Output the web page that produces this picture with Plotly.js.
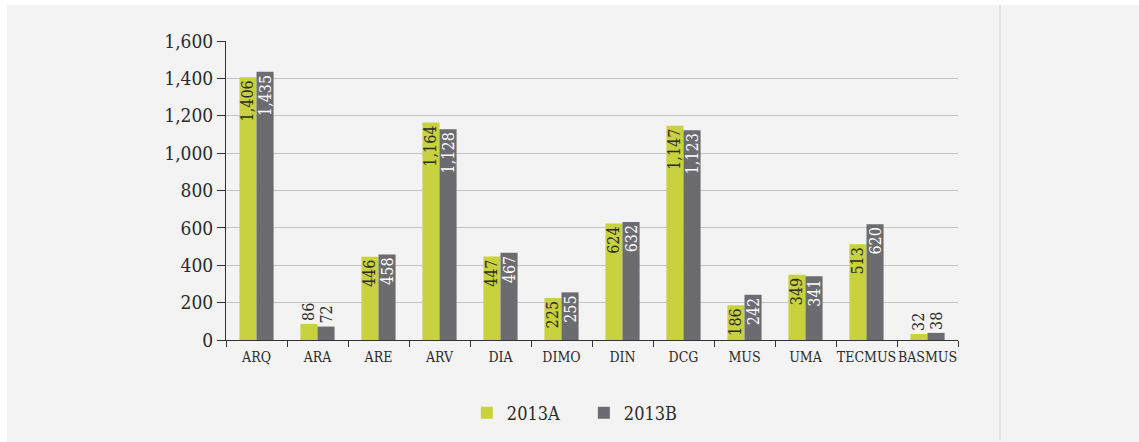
<!DOCTYPE html>
<html>
<head>
<meta charset="utf-8">
<script src="https://cdn.plot.ly/plotly-3.0.1.min.js"></script>
<style>
html,body{margin:0;padding:0;background:#ffffff;}
#chart{position:absolute;left:7px;top:5px;width:1132px;height:437px;}
</style>
</head>
<body>
<div id="chart"></div>
<script>
const categories = ["ARQ","ARA","ARE","ARV","DIA","DIMO","DIN","DCG","MUS","UMA","TECMUS","BASMUS"];
const values2013A = [1406, 86, 446, 1164, 447, 225, 624, 1147, 186, 349, 513, 32];
const values2013B = [1435, 72, 458, 1128, 467, 255, 632, 1123, 242, 341, 620, 38];
const seriesNames = ["2013A", "2013B"];
const yTicks = [0, 200, 400, 600, 800, 1000, 1200, 1400, 1600];

const fmt = v => v.toLocaleString("en-US");
const serif = "'DejaVu Serif Condensed', 'DejaVu Serif', 'Liberation Serif', serif";

function barTrace(name, vals, color, insideColor) {
  return {
    type: "bar", name: name, x: categories, y: vals,
    marker: {color: color},
    text: vals.map(fmt), textposition: "auto", textangle: -90,
    insidetextanchor: "end", constraintext: "none", cliponaxis: false,
    insidetextfont: {color: insideColor, size: 16, family: serif},
    outsidetextfont: {color: "#2b2b2b", size: 16, family: serif},
    hoverinfo: "x+y"
  };
}

const traces = [
  barTrace(seriesNames[0], values2013A, "#c8d13e", "#2b2b2b"),
  barTrace(seriesNames[1], values2013B, "#6b6b70", "#ffffff")
];

const layout = {
  width: 1132, height: 437,
  paper_bgcolor: "#f3f3f3", plot_bgcolor: "#f3f3f3",
  margin: {l: 219, r: 181, t: 36, b: 101},
  barmode: "group", bargap: 0.44, bargroupgap: 0,
  font: {family: serif, color: "#2b2b2b"},
  xaxis: {
    type: "category", showgrid: false, showline: true, linecolor: "#333", linewidth: 1,
    ticks: "outside", tickson: "boundaries", ticklen: 6, tickcolor: "#333",
    tickangle: 0, automargin: false, ticklabelstandoff: 4,
    tickfont: {size: 14, family: serif, color: "#2b2b2b"}, fixedrange: true
  },
  yaxis: {
    range: [0, 1600], tickvals: yTicks, ticktext: yTicks.map(fmt),
    showgrid: true, gridcolor: "#c4c4c4", gridwidth: 1,
    showline: true, linecolor: "#333", linewidth: 1,
    ticks: "outside", ticklen: 8, tickcolor: "#333", automargin: false,
    tickfont: {size: 19, family: serif, color: "#2b2b2b"},
    zeroline: false, fixedrange: true
  },
  legend: {
    orientation: "h", x: 0.329, xanchor: "left", y: -0.24, yanchor: "middle",
    font: {size: 18, family: serif, color: "#2b2b2b"},
    bgcolor: "rgba(0,0,0,0)", itemwidth: 30,
    entrywidth: 72, entrywidthmode: "pixels"
  },
  shapes: [
    {type: "line", xref: "paper", yref: "paper",
     x0: (993 - 219) / 732, x1: (993 - 219) / 732, y0: -101/300, y1: 1 + 36/300,
     line: {color: "#e3e3e3", width: 2}}
  ],
  showlegend: true
};

Plotly.newPlot("chart", traces, layout, {displayModeBar: false});
</script>
</body>
</html>
